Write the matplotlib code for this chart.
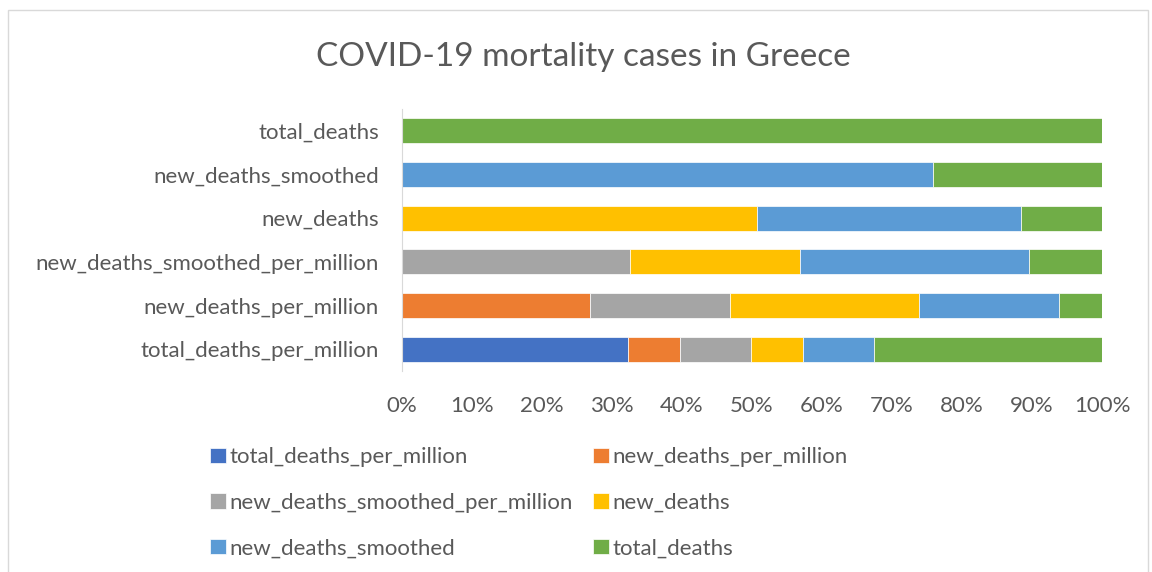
import matplotlib
matplotlib.use('Agg')
import matplotlib.pyplot as plt
from matplotlib.patches import Rectangle
import numpy as np

# categories (bottom to top) and share of each series in percent
categories = ['total_deaths_per_million', 'new_deaths_per_million',
              'new_deaths_smoothed_per_million', 'new_deaths',
              'new_deaths_smoothed', 'total_deaths']
series_names = ['total_deaths_per_million', 'new_deaths_per_million',
                'new_deaths_smoothed_per_million', 'new_deaths',
                'new_deaths_smoothed', 'total_deaths']
total_deaths_per_million = [32.3, 0, 0, 0, 0, 0]
new_deaths_per_million = [7.4, 26.8, 0, 0, 0, 0]
new_deaths_smoothed_per_million = [10.2, 20.0, 32.5, 0, 0, 0]
new_deaths = [7.4, 27.0, 24.4, 50.7, 0, 0]
new_deaths_smoothed = [10.2, 20.1, 32.7, 37.7, 75.9, 0]
total_deaths = [32.5, 6.1, 10.4, 11.6, 24.1, 100]
colors = ['#4472c4', '#ed7d31', '#a5a5a5', '#ffc000', '#5b9bd5', '#70ad47']
xticks = [0, 10, 20, 30, 40, 50, 60, 70, 80, 90, 100]

plt.rcParams['font.family'] = ['Lato', 'DejaVu Sans']
txt = '#595959'
fs = 16

fig = plt.figure(figsize=(11.52, 5.72), dpi=100)
fig.patches.append(Rectangle((8 / 1152, -0.1), 1140 / 1152, 1 - 10 / 572 + 0.1,
                             transform=fig.transFigure, fill=False,
                             edgecolor='#d9d9d9', linewidth=1))

ax = fig.add_axes([402 / 1152, 201 / 572, 700 / 1152, 262 / 572])

data = np.array([total_deaths_per_million, new_deaths_per_million,
                 new_deaths_smoothed_per_million, new_deaths,
                 new_deaths_smoothed, total_deaths])
data = data / data.sum(axis=0) * 100
y = np.arange(len(categories))
left = np.zeros(len(categories))
handles = []
for i, name in enumerate(series_names):
    b = ax.barh(y, data[i], left=left, height=0.57, color=colors[i],
                label=name, edgecolor='white', linewidth=0.5)
    handles.append(b)
    left += data[i]

ax.set_xlim(0, 100)
ax.set_ylim(-0.5, len(categories) - 0.5)
ax.set_yticks(y)
ax.set_yticklabels(categories, fontsize=fs, color=txt)
ax.set_xticks(xticks)
ax.set_xticklabels([f'{t}%' for t in xticks], fontsize=fs, color=txt)
ax.tick_params(length=0, pad=16.5, axis='y')
ax.tick_params(length=0, pad=18, axis='x')
for s in ['top', 'right', 'bottom']:
    ax.spines[s].set_visible(False)
ax.spines['left'].set_color('#d9d9d9')

fig.text(583 / 1152, 1 - 57 / 572, 'COVID-19 mortality cases in Greece',
         ha='center', va='center', fontsize=24, color=txt)

# legend is read row by row, matplotlib fills columns first
order = [0, 2, 4, 1, 3, 5]
leg = fig.legend([handles[i] for i in order], [series_names[i] for i in order],
                 ncol=2, loc='upper left', bbox_to_anchor=(199 / 1152, 1 - 436 / 572),
                 frameon=False, fontsize=fs, handlelength=0.7, handleheight=0.7,
                 handletextpad=0.15, columnspacing=0.95, labelspacing=1.15,
                 borderpad=0)
for t in leg.get_texts():
    t.set_color(txt)

fig.savefig('out.png', dpi=100)
